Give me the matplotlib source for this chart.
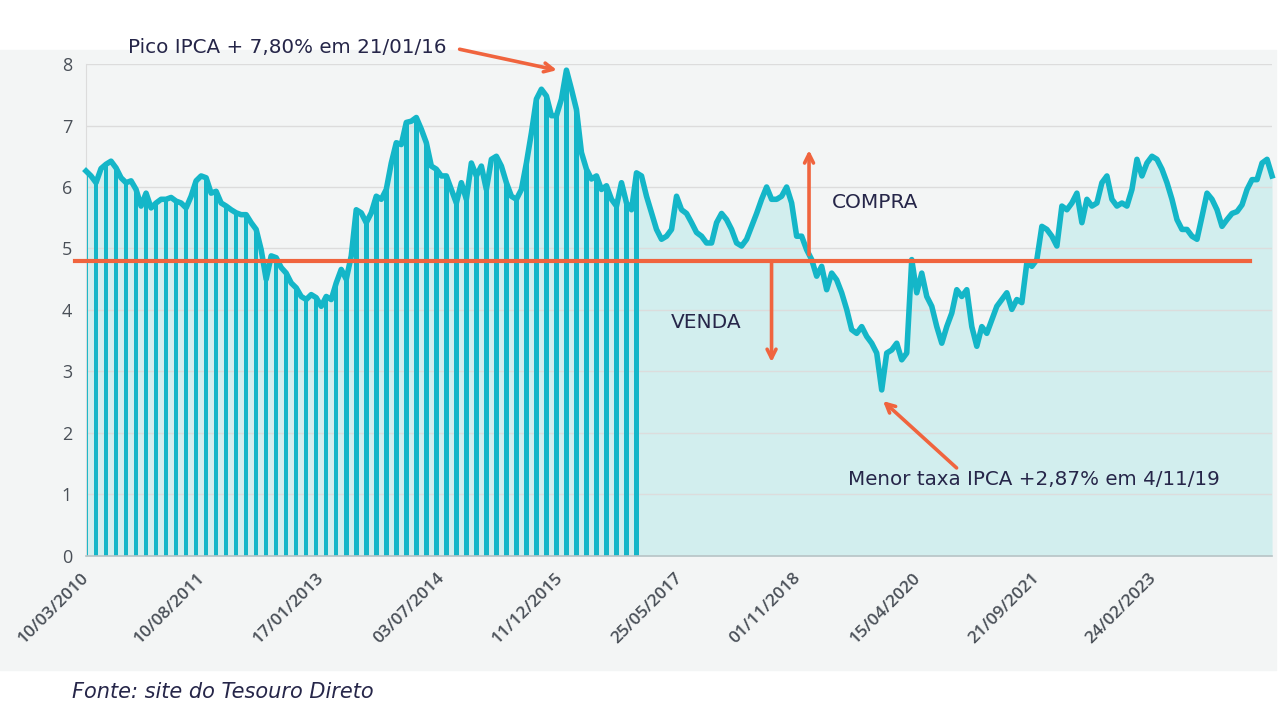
# Taxa do Tesouro IPCA+ (% a.a.) de 2010 a 2024, com linha de referência compra/venda
import pandas as pd
import matplotlib
matplotlib.use("Agg")
import matplotlib.pyplot as plt
from matplotlib.patches import Rectangle

# taxa, um ponto a cada ~22 dias
taxa = [
    6.26, 6.18, 6.07, 6.30, 6.37, 6.42, 6.31, 6.15, 6.07, 6.10,
    5.96, 5.69, 5.90, 5.66, 5.74, 5.80, 5.80, 5.83, 5.77, 5.74,
    5.66, 5.85, 6.10, 6.18, 6.15, 5.90, 5.93, 5.74, 5.69, 5.63,
    5.58, 5.55, 5.55, 5.42, 5.31, 4.98, 4.50, 4.88, 4.85, 4.69,
    4.60, 4.44, 4.36, 4.22, 4.17, 4.25, 4.20, 4.06, 4.22, 4.17,
    4.44, 4.66, 4.50, 4.88, 5.63, 5.58, 5.42, 5.58, 5.85,
    5.80, 5.96, 6.39, 6.72, 6.69, 7.05, 7.07, 7.13, 6.94, 6.72,
    6.34, 6.29, 6.18, 6.18, 5.96, 5.74, 6.07, 5.80, 6.39, 6.18,
    6.34, 5.96, 6.45, 6.50, 6.34, 6.07, 5.85, 5.80, 5.96, 6.39,
    6.88, 7.43, 7.59, 7.48, 7.16, 7.16, 7.43, 7.90, 7.59, 7.26,
    6.56, 6.29, 6.13, 6.18, 5.96, 6.02, 5.80, 5.69, 6.07, 5.74,
    5.63, 6.23, 6.18, 5.85, 5.58, 5.31, 5.15, 5.20,
    5.31, 5.85, 5.63, 5.57, 5.42, 5.26, 5.20, 5.09, 5.09, 5.42,
    5.57, 5.47, 5.31, 5.09, 5.04, 5.15, 5.36, 5.57, 5.80, 6.00,
    5.80, 5.80, 5.85, 6.00, 5.74, 5.20, 5.20, 4.98, 4.82, 4.55,
    4.71, 4.33, 4.60, 4.49, 4.28, 4.01, 3.68, 3.62, 3.73, 3.57,
    3.46, 3.30, 2.70, 3.30, 3.35, 3.46, 3.19, 3.30, 4.82, 4.28,
    4.60, 4.22, 4.06, 3.73, 3.46, 3.73, 3.95, 4.33,
    4.22, 4.33, 3.73, 3.41, 3.73, 3.62, 3.84, 4.06, 4.17, 4.28,
    4.01, 4.17, 4.12, 4.77, 4.71, 4.82, 5.36, 5.31, 5.20, 5.04,
    5.69, 5.63, 5.74, 5.90, 5.42, 5.80, 5.69, 5.74, 6.07, 6.18,
    5.80, 5.69, 5.74, 5.69, 5.96, 6.45, 6.18, 6.39, 6.50, 6.45,
    6.29, 6.07, 5.80, 5.47, 5.31, 5.31, 5.20, 5.15, 5.52, 5.90,
    5.80, 5.63, 5.36, 5.47, 5.57, 5.60, 5.71, 5.96, 6.12, 6.12,
    6.39, 6.45, 6.18,
]
datas = pd.date_range("2010-03-10", "2024-07-31", periods=len(taxa))

tick_labels = ["10/03/2010", "10/08/2011", "17/01/2013", "03/07/2014", "11/12/2015",
               "25/05/2017", "01/11/2018", "15/04/2020", "21/09/2021", "24/02/2023"]
tick_datas = pd.to_datetime(tick_labels, format="%d/%m/%Y")

linha_ref = 4.8      # taxa de referência
n_barras = 111       # trecho inicial desenhado em barras (até ~2017)

# cores
ciano = "#14b6c8"
ciano_claro = "#d2eeee"
laranja = "#f0643e"
texto = "#262649"
cinza = "#4a5058"

plt.rcParams["font.family"] = ["Open Sans", "DejaVu Sans"]
fonte_txt = "DejaVu Sans"

fig = plt.figure(figsize=(12.8, 7.2), dpi=100)
fig.patch.set_facecolor("white")
fig.patches.append(Rectangle((0, 0.069), 0.997, 0.862, transform=fig.transFigure,
                             color="#f3f5f5", zorder=-1))
ax = fig.add_axes([0.0672, 0.2278, 0.9266, 0.6833])
ax.set_facecolor("none")

# área + barras + linha
ax.fill_between(datas, taxa, 0, color=ciano_claro, lw=0, zorder=1)
ax.bar(datas[:n_barras:2], taxa[:n_barras:2], width=20, color=ciano, lw=0, zorder=2)
ax.plot(datas, taxa, color=ciano, lw=4, solid_joinstyle="round", zorder=3, clip_on=False)

# linha de referência
ax.axhline(linha_ref, xmin=-0.0093, xmax=0.9815, color=laranja, lw=3, zorder=4, clip_on=False)

# eixos
ax.set_xlim(datas[0], datas[-1])
ax.set_ylim(0, 8)
ax.set_yticks(range(0, 9))
ax.set_xticks(tick_datas)
ax.set_xticklabels(tick_labels, rotation=45, ha="right", va="center", rotation_mode="anchor",
                   fontsize=12.5, color=cinza, fontweight="semibold")
ax.tick_params(axis="y", length=0, pad=10, labelsize=13, labelcolor=cinza)
ax.tick_params(axis="x", length=0, pad=14)
ax.grid(axis="y", color="#dcdcdc", lw=1, zorder=0)
for s in ["top", "right"]:
    ax.spines[s].set_visible(False)
ax.spines["left"].set_color("#dcdcdc")
ax.spines["bottom"].set_color("#b8c4c6")
ax.spines["bottom"].set_linewidth(1.2)

# anotações
seta = dict(arrowstyle="->", color=laranja, lw=2.6, mutation_scale=16, shrinkA=0, shrinkB=0)
ax.annotate("", xy=(0.397, 0.9875), xytext=(0.315, 1.03), xycoords="axes fraction",
            arrowprops=seta, annotation_clip=False, zorder=5)
ax.text(0.0354, 1.034, "Pico IPCA + 7,80% em 21/01/16", transform=ax.transAxes,
        ha="left", va="center", fontsize=14.3, color=texto, family=fonte_txt)

ax.annotate("", xy=(0.672, 0.315), xytext=(0.734, 0.179), xycoords="axes fraction",
            arrowprops=seta, zorder=5)
ax.text(0.6425, 0.155, "Menor taxa IPCA +2,87% em 4/11/19", transform=ax.transAxes,
        ha="left", va="center", fontsize=14.3, color=texto, family=fonte_txt)

ax.annotate("", xy=(0.6096, 0.825), xytext=(0.6096, 0.6125), xycoords="axes fraction",
            arrowprops=seta, zorder=5)
ax.text(0.629, 0.7175, "COMPRA", transform=ax.transAxes,
        ha="left", va="center", fontsize=14.5, color=texto, family=fonte_txt)

ax.annotate("", xy=(0.578, 0.394), xytext=(0.578, 0.6), xycoords="axes fraction",
            arrowprops=seta, zorder=5)
ax.text(0.493, 0.475, "VENDA", transform=ax.transAxes,
        ha="left", va="center", fontsize=14.5, color=texto, family=fonte_txt)

fig.text(72 / 1280, 1 - 692 / 720, "Fonte: site do Tesouro Direto", ha="left", va="center",
         fontsize=15, style="italic", color=texto, family=fonte_txt)

fig.savefig("out.png", dpi=100)
